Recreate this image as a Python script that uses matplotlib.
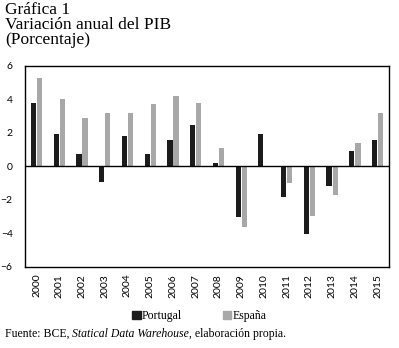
import numpy as np
import matplotlib.pyplot as plt
from matplotlib.patches import Patch

plt.rcParams['font.family'] = ['Liberation Serif', 'DejaVu Serif']

# Datos
anios = ['2000', '2001', '2002', '2003', '2004', '2005', '2006', '2007',
         '2008', '2009', '2010', '2011', '2012', '2013', '2014', '2015']
portugal = [3.8, 1.95, 0.76, -0.93, 1.83, 0.76, 1.55, 2.49,
            0.2, -3.0, 1.9, -1.85, -4.05, -1.15, 0.9, 1.6]
espana = [5.3, 4.0, 2.9, 3.2, 3.16, 3.74, 4.17, 3.78,
          1.1, -3.6, 0.05, -1.0, -2.94, -1.7, 1.37, 3.2]

col_pt = '#1c1c1c'
col_es = '#a8a8a8'

fig = plt.figure(figsize=(3.99, 3.48), dpi=100)
ax = fig.add_axes([0.063, 0.233, 0.912, 0.578])

x = np.arange(len(anios))
w = 0.23
ax.bar(x - 0.135, portugal, width=w, color=col_pt)
ax.bar(x + 0.135, espana, width=w, color=col_es)
ax.axhline(0, color='black', linewidth=1)

ax.set_xlim(-0.5, len(anios) - 0.5)
ax.set_ylim(-6, 6)
ax.set_yticks([-6, -4, -2, 0, 2, 4, 6])
ax.set_xticks(x)
ax.set_xticklabels(anios, rotation=90)
ax.tick_params(axis='both', length=0, labelsize=7.5)
ax.tick_params(axis='x', pad=5)
ax.tick_params(axis='y', pad=9)
for lab in ax.get_xticklabels() + ax.get_yticklabels():
    lab.set_family('Lato')
for s in ax.spines.values():
    s.set_linewidth(1)

fig.text(0.013, 0.995, 'Gráfica 1\nVariación anual del PIB\n(Porcentaje)',
         ha='left', va='top', fontsize=12.5, linespacing=0.92)

handles = [Patch(color=col_pt, label='Portugal'), Patch(color=col_es, label='España')]
fig.legend(handles=handles, loc='center', bbox_to_anchor=(0.5, 0.092), ncol=2,
           frameon=False, fontsize=8.5, handlelength=0.7, handleheight=0.7,
           handletextpad=0.1, columnspacing=3.5)

# fuente con una parte en cursiva
renderer = fig.canvas.get_renderer()
partes = [('Fuente: BCE, ', 'normal'), ('Statical Data Warehouse', 'italic'),
          (', elaboración propia.', 'normal')]
xpos = 5
for txt, estilo in partes:
    t = fig.text(xpos / 399, 0.04, txt, ha='left', va='center', fontsize=8.5,
                 fontstyle=estilo)
    xpos += t.get_window_extent(renderer).width

fig.savefig('out.png', dpi=100)
